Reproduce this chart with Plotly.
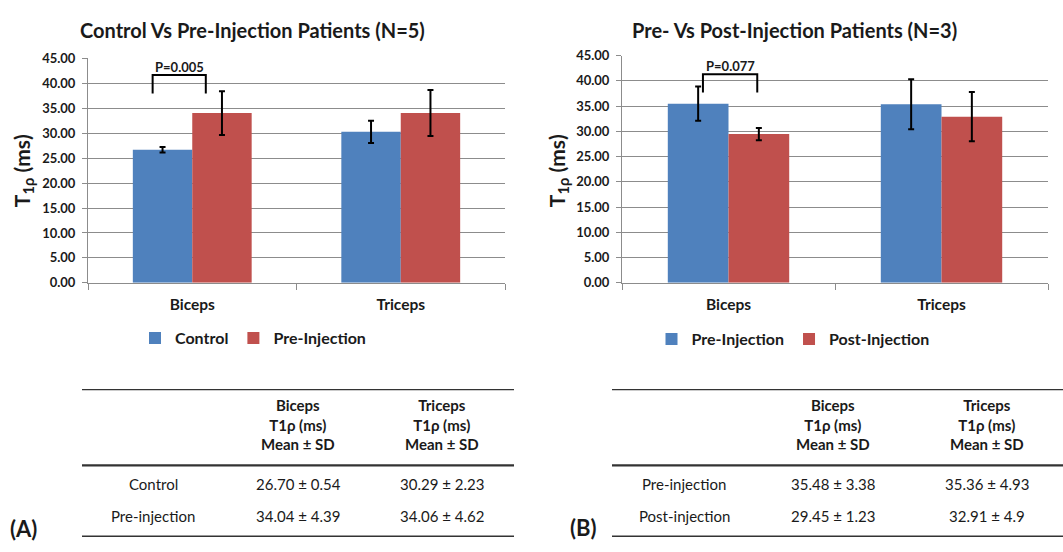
import plotly.graph_objects as go

W, H = 1063, 552

# ---------------- data ----------------
categories = ["Biceps", "Triceps"]

a_names = ["Control", "Pre-Injection"]
a_control_mean = [26.70, 30.29]
a_control_sd = [0.54, 2.23]
a_pre_mean = [34.04, 34.06]
a_pre_sd = [4.39, 4.62]

b_names = ["Pre-Injection", "Post-Injection"]
b_pre_mean = [35.48, 35.36]
b_pre_sd = [3.38, 4.93]
b_post_mean = [29.45, 32.91]
b_post_sd = [1.23, 4.90]

title_a = "Control Vs Pre-Injection Patients (N=5)"
title_b = "Pre- Vs Post-Injection Patients (N=3)"
p_a = "P=0.005"
p_b = "P=0.077"

table_header = ["Biceps", "T1ρ (ms)", "Mean ± SD"]
table_header2 = ["Triceps", "T1ρ (ms)", "Mean ± SD"]
a_rows = ["Control", "Pre-injection"]
a_biceps_txt = ["26.70 ± 0.54", "34.04 ± 4.39"]
a_triceps_txt = ["30.29 ± 2.23", "34.06 ± 4.62"]
b_rows = ["Pre-injection", "Post-injection"]
b_biceps_txt = ["35.48 ± 3.38", "29.45 ± 1.23"]
b_triceps_txt = ["35.36 ± 4.93", "32.91 ± 4.9"]

BLUE = "#4F81BD"
RED = "#C0504D"
FONT = "Lato"
TXT = "#1a1a1a"


def px(x):
    return x / W


def py(y):
    return 1 - y / H


fig = go.Figure()


def bar(name, x, y, sd, color, xa, ya, legend):
    return go.Bar(
        name=name, x=x, y=y, marker=dict(color=color, line=dict(width=0)),
        error_y=dict(type="data", array=sd, color="black", thickness=2, width=3),
        xaxis=xa, yaxis=ya, legend=legend,
    )


fig.add_trace(bar(a_names[0], categories, a_control_mean, a_control_sd, BLUE, "x", "y", "legend"))
fig.add_trace(bar(a_names[1], categories, a_pre_mean, a_pre_sd, RED, "x", "y", "legend"))
fig.add_trace(bar(b_names[0], categories, b_pre_mean, b_pre_sd, BLUE, "x2", "y2", "legend2"))
fig.add_trace(bar(b_names[1], categories, b_post_mean, b_post_sd, RED, "x2", "y2", "legend2"))

xcommon = dict(
    type="category", showgrid=False, showline=True, linecolor="#8c8c8c", linewidth=1,
    ticks="outside", tickson="boundaries", ticklen=6, tickcolor="#8c8c8c",
    tickfont=dict(family=FONT, size=15.5, color=TXT, weight="bold"),
    ticklabelstandoff=8, fixedrange=True,
)
ycommon = dict(
    range=[0, 45], dtick=5, tickformat=".2f", showgrid=True, gridcolor="#8c8c8c",
    gridwidth=1, showline=True, linecolor="#8c8c8c", linewidth=1, zeroline=False,
    ticks="outside", ticklen=5, tickcolor="#8c8c8c",
    tickfont=dict(family=FONT, size=13, color=TXT, weight="bold"),
    ticklabelstandoff=4, fixedrange=True,
)

fig.update_layout(
    width=W, height=H, margin=dict(l=0, r=0, t=0, b=0),
    paper_bgcolor="white", plot_bgcolor="white",
    barmode="group", bargap=0.43, bargroupgap=0,
    xaxis=dict(domain=[px(88), px(505)], anchor="y", **xcommon),
    yaxis=dict(domain=[py(283), py(52)], anchor="x", **ycommon),
    xaxis2=dict(domain=[px(622), px(1048)], anchor="y2", **xcommon),
    yaxis2=dict(domain=[py(283), py(49)], anchor="x2", **ycommon),
    legend=dict(orientation="h", x=px(253), xanchor="center", y=py(340), yanchor="middle",
                font=dict(family=FONT, size=16, color=TXT, weight="bold"),
                itemwidth=30, tracegroupgap=0, bgcolor="rgba(0,0,0,0)"),
    legend2=dict(orientation="h", x=px(793), xanchor="center", y=py(341), yanchor="middle",
                 font=dict(family=FONT, size=16, color=TXT, weight="bold"),
                 itemwidth=30, tracegroupgap=0, bgcolor="rgba(0,0,0,0)"),
)

ann = []
shapes = []

# titles
ann.append(dict(text=title_a, x=px(252), y=py(23), xref="paper", yref="paper", showarrow=False,
                font=dict(family=FONT, size=20, color=TXT, weight="bold"), xanchor="center", yanchor="middle"))
ann.append(dict(text=title_b, x=px(794), y=py(23), xref="paper", yref="paper", showarrow=False,
                font=dict(family=FONT, size=20, color=TXT, weight="bold"), xanchor="center", yanchor="middle"))

# y-axis titles
for xc in (23, 558):
    ann.append(dict(text="T<sub>1ρ</sub> (ms)", x=px(xc), y=py(168), xref="paper", yref="paper",
                    showarrow=False, textangle=-90,
                    font=dict(family=FONT, size=21, color=TXT, weight="bold"),
                    xanchor="center", yanchor="middle"))

# significance brackets
brackets = [("x", "y", -0.19, 0.065, 41.7, 38.0, p_a, 43.3),
            ("x2", "y2", -0.12, 0.135, 41.3, 37.7, p_b, 42.9)]
for xr, yr, x0, x1, yt, yb, lab, ylab in brackets:
    shapes.append(dict(type="path", xref=xr, yref=yr,
                       path=f"M {x0},{yb} L {x0},{yt} L {x1},{yt} L {x1},{yb}",
                       line=dict(color="black", width=2)))
    ann.append(dict(text=lab, x=(x0 + x1) / 2, y=ylab, xref=xr, yref=yr, showarrow=False,
                    font=dict(family=FONT, size=13, color=TXT, weight="bold"),
                    xanchor="center", yanchor="middle"))


# tables
def table(x_left, x_right, c_label, c_bic, c_tri, rows, bic, tri, tag, tag_x, tag_y):
    for yy, w in ((393, 1.3), (471, 2.2), (544, 1.3)):
        shapes.append(dict(type="line", xref="paper", yref="paper",
                           x0=px(x_left), x1=px(x_right), y0=py(yy), y1=py(yy),
                           line=dict(color="#333333", width=w)))
    for cx, hdr in ((c_bic, table_header), (c_tri, table_header2)):
        ann.append(dict(text="<br>".join(hdr), x=px(cx), y=py(429), xref="paper", yref="paper",
                        showarrow=False, xanchor="center", yanchor="middle", align="center",
                        font=dict(family=FONT, size=15, color=TXT, weight="bold")))
    for r, yy in enumerate((490, 523)):
        for cx, txt in ((c_label, rows[r]), (c_bic, bic[r]), (c_tri, tri[r])):
            ann.append(dict(text=txt, x=px(cx), y=py(yy), xref="paper", yref="paper",
                            showarrow=False, xanchor="center", yanchor="middle",
                            font=dict(family=FONT, size=15, color=TXT)))
    ann.append(dict(text=tag, x=px(tag_x), y=py(tag_y), xref="paper", yref="paper",
                    showarrow=False, xanchor="center", yanchor="middle",
                    font=dict(family=FONT, size=22, color=TXT, weight="bold")))


table(82, 514, 153, 298, 442, a_rows, a_biceps_txt, a_triceps_txt, "(A)", 23, 536)
table(612, 1063, 684, 833, 987, b_rows, b_biceps_txt, b_triceps_txt, "(B)", 583, 535)

fig.update_layout(annotations=ann, shapes=shapes)

fig.write_html(
    "out.html",
    config={"displayModeBar": False},
    post_script="document.body.style.margin='0';document.body.style.overflow='hidden';",
)
